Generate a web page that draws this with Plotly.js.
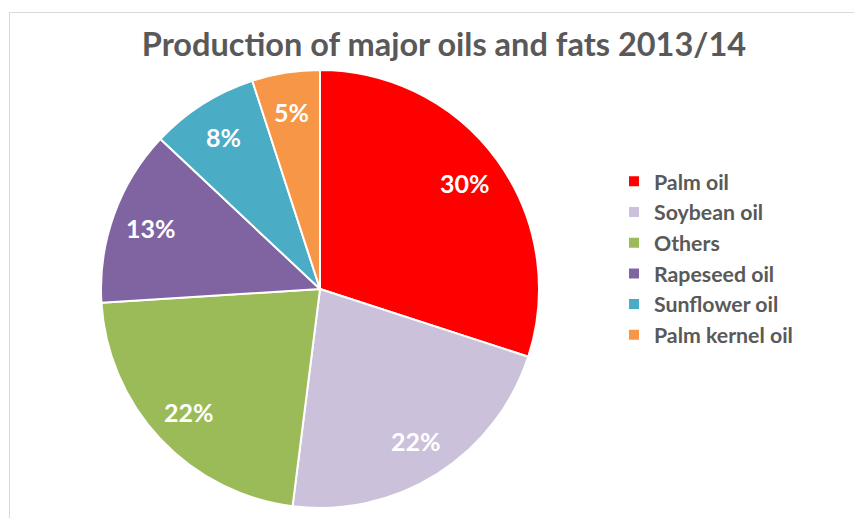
<!DOCTYPE html>
<html>
<head>
<meta charset="utf-8">
<script src="https://cdn.plot.ly/plotly-3.0.1.min.js"></script>
<style>
  html, body { margin: 0; padding: 0; background: #fff; }
  #wrap { position: relative; width: 854px; height: 518px; overflow: hidden; }
  #frame { position: absolute; left: 9px; top: 12px; width: 900px; height: 600px; border: 1.5px solid #d9d9d9; box-sizing: border-box; pointer-events: none; }
  #chart { position: absolute; left: 0; top: 0; width: 854px; height: 518px; }
</style>
</head>
<body>
<div id="wrap">
  <div id="chart"></div>
  <div id="frame"></div>
</div>
<script>
const categories = ["Palm oil", "Soybean oil", "Others", "Rapeseed oil", "Sunflower oil", "Palm kernel oil"];
const shares = [30, 22, 22, 13, 8, 5];
const colors = ["#FF0000", "#CCC1DA", "#9BBB59", "#8064A2", "#4BACC6", "#F79646"];
const titleText = "Production of major oils and fats 2013/14";

const W = 854, H = 518;
const cx = 320, cy = 289, R = 219;
const labelRadius = 0.82;

const trace = {
  type: "pie",
  labels: categories,
  values: shares,
  sort: false,
  direction: "clockwise",
  rotation: 0,
  marker: { colors: colors, line: { color: "#ffffff", width: 2 } },
  textinfo: "none",
  hoverinfo: "label+percent",
  domain: { x: [(cx - R) / W, (cx + R) / W], y: [1 - (cy + R) / H, 1 - (cy - R) / H] }
};

// percentage labels placed along each slice's mid-angle, derived from the data
const total = shares.reduce((a, b) => a + b, 0);
let cum = 0;
const annotations = shares.map((v) => {
  const mid = (cum + v / 2) / total * 2 * Math.PI;
  cum += v;
  const px = cx + labelRadius * R * Math.sin(mid);
  const py = cy - labelRadius * R * Math.cos(mid);
  return {
    xref: "paper", yref: "paper",
    x: px / W, y: 1 - py / H,
    xanchor: "center", yanchor: "middle",
    showarrow: false,
    text: "<b>" + Math.round(v / total * 100) + "%</b>",
    font: { family: "Lato, 'Open Sans', sans-serif", size: 25, color: "#ffffff" }
  };
});

const layout = {
  width: W, height: H,
  margin: { l: 0, r: 0, t: 0, b: 0 },
  paper_bgcolor: "#ffffff",
  showlegend: true,
  annotations: annotations,
  title: {
    text: "<b>" + titleText + "</b>",
    font: { family: "Lato, 'Open Sans', sans-serif", size: 32.5, color: "#595959" },
    x: 444 / W, xanchor: "center", xref: "paper",
    y: 1 - 45 / H, yanchor: "middle", yref: "container"
  },
  legend: {
    x: 614 / W, xanchor: "left",
    y: 1 - 161 / H, yanchor: "top",
    font: { family: "Lato, 'Open Sans', sans-serif", size: 21.3, color: "#595959", weight: "bold" },
    bgcolor: "rgba(0,0,0,0)",
    traceorder: "normal"
  }
};

Plotly.newPlot("chart", [trace], layout, { displayModeBar: false, staticPlot: true });
</script>
</body>
</html>
